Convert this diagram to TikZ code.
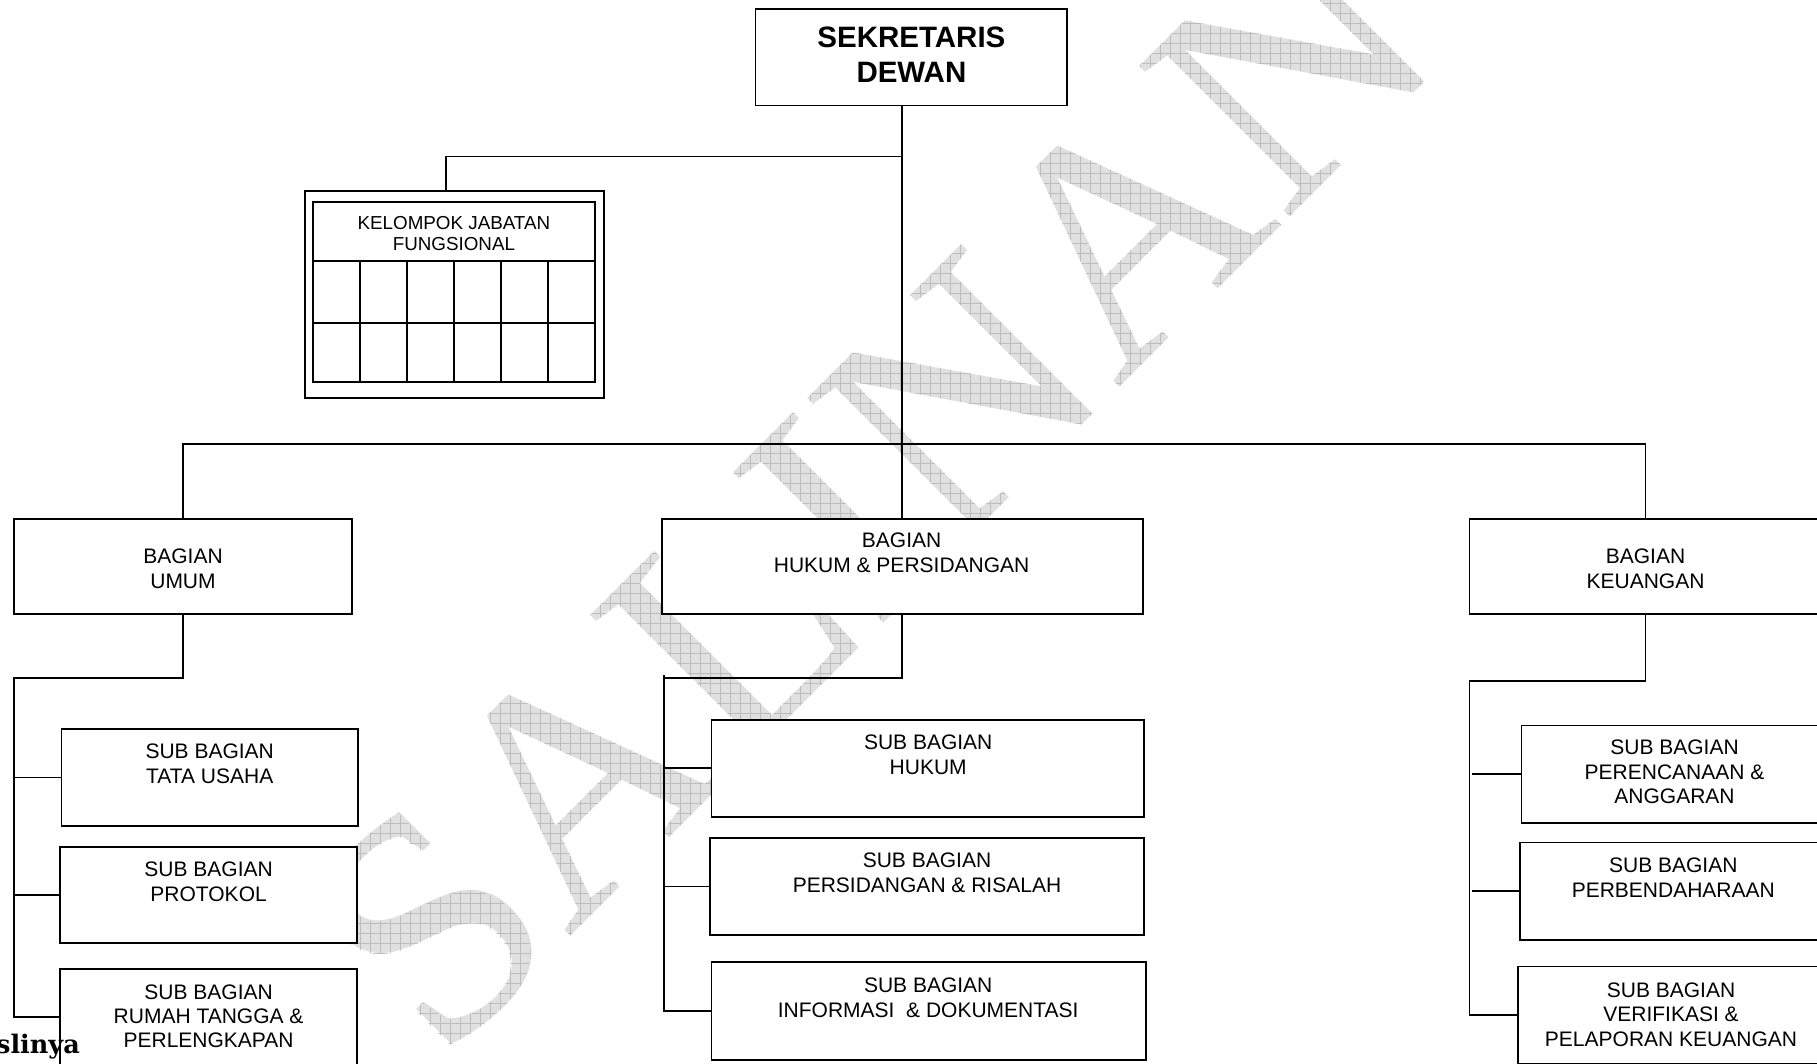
\documentclass[tikz,border=0pt]{standalone}
\usepackage{fontspec}
\setmainfont{Liberation Sans}
\newfontfamily\wmfont{Liberation Serif}
\newfontfamily\stampfont{DejaVu Serif}
\usetikzlibrary{calc,fadings,patterns.meta}

\begin{document}
% mask for the grid inside the diagonal watermark (white = visible), centred on the page centre
\pgfdeclarefading{wmfade}{%
  \pgfpicture
    \pgfpathrectangle{\pgfpoint{-908.5pt}{-531.5pt}}{\pgfpoint{1817pt}{1063pt}}%
    \pgfusepath{use as bounding box}%
    \pgfsetfillcolor{black}%
    \pgfpathrectangle{\pgfpoint{-908.5pt}{-531.5pt}}{\pgfpoint{1817pt}{1063pt}}%
    \pgfusepath{fill}%
    \pgftext[left,base,at={\pgfpoint{-467.5pt}{-534.5pt}},rotate=45]{\color{white}\wmfont\fontsize{325}{325}\selectfont SALINAN}%
  \endpgfpicture}
\begin{tikzpicture}[x=1pt,y=-1pt,
  box/.style={draw, line width=1.8pt, fill=white, inner sep=0pt, outer sep=0pt, anchor=north west},
  lbl/.style={align=center, inner sep=0pt, font=\fontsize{21}{25}\selectfont},
  link/.style={line width=1.8pt},
  kjline/.style={line width=2.1pt},
  wmark/.style={path fading=wmfade, fit fading=false, fading transform={shift={(908.5,531.5)}}}
]
\useasboundingbox (0,0) rectangle (1817,1063);

% watermark: light grey letters with a fine grid
\node[text=black!12, font=\wmfont\fontsize{325}{325}\selectfont, rotate=45,
      anchor=base west, inner sep=0pt] (wm) at (441,1066) {SALINAN};
\path[wmark, pattern={Hatch[distance=10pt, angle=0, line width=0.6pt]}, pattern color=black!26] (0,0) rectangle (1817,1063);

% top level
\node[box, minimum width=311.8, minimum height=96.2] (sek) at (755.5,9.3) {};
\node[lbl, font=\bfseries\fontsize{29.5}{34.8}\selectfont] (sekt) at (911.4,54.5) {SEKRETARIS\\DEWAN};

% functional group table
\node[box, kjline, minimum width=298.9, minimum height=207.3] (kjf) at (304.8,190.7) {};
\node[box, kjline, minimum width=282.3, minimum height=180] (kjfin) at (312.7,201.7) {};
\draw[kjline] (312.7,260.7) -- (595,260.7);
\draw[kjline] (312.7,322.7) -- (595,322.7);
\foreach \i in {1,...,5}
  \draw[kjline] (312.7+\i*47.05,260.7) -- (312.7+\i*47.05,381.7);
\node[lbl, font=\fontsize{18.8}{21.7}\selectfont] (kjft) at (453.9,233.5) {KELOMPOK JABATAN\\FUNGSIONAL};

% divisions
\node[box, minimum width=338.4, minimum height=95.1] (umum) at (13.9,519.1) {};
\node[box, minimum width=480.9, minimum height=95.1] (hukum) at (661.7,519.1) {};
\node[box, minimum width=352, minimum height=95.1] (keu) at (1469.4,519.1) {};
\node[lbl] (umumt) at (183,569) {BAGIAN\\UMUM};
\node[lbl] (hukumt) at (901.6,552.8) {BAGIAN\\HUKUM \& PERSIDANGAN};
\node[lbl] (keut) at (1645.5,569) {BAGIAN\\KEUANGAN};

% sub-divisions
\node[box, minimum width=296.6, minimum height=97.3] (tata) at (61.4,728.9) {};
\node[box, minimum width=296.6, minimum height=96.2] (protokol) at (60.3,847.1) {};
\node[box, minimum width=296.6, minimum height=97] (rumah) at (60.3,968.8) {};
\node[box, minimum width=432.2, minimum height=97.4] (shukum) at (711.5,719.6) {};
\node[box, minimum width=433.4, minimum height=97.4] (persid) at (710.3,837.8) {};
\node[box, minimum width=434.5, minimum height=98.5] (info) at (711.5,961.8) {};
\node[box, minimum width=310, minimum height=97.3] (perenc) at (1521.5,725.4) {};
\node[box, minimum width=310, minimum height=97.4] (perbend) at (1520.3,842.4) {};
\node[box, minimum width=310, minimum height=97] (verif) at (1518,966.4) {};

\node[lbl] (tatat) at (209.7,763.6) {SUB BAGIAN\\TATA USAHA};
\node[lbl] (protokolt) at (208.6,881.9) {SUB BAGIAN\\PROTOKOL};
\node[lbl, font=\fontsize{21}{24.3}\selectfont] (rumaht) at (208.6,1016.3) {SUB BAGIAN\\RUMAH TANGGA \&\\PERLENGKAPAN};
\node[lbl] (shukumt) at (928.2,754.4) {SUB BAGIAN\\HUKUM};
\node[lbl] (persidt) at (927,872.6) {SUB BAGIAN\\PERSIDANGAN \& RISALAH};
\node[lbl] (infot) at (928.2,997.7) {SUB BAGIAN\\INFORMASI\ \ \& DOKUMENTASI};
\node[lbl, font=\fontsize{21}{24.3}\selectfont] (perenct) at (1674.5,771.8) {SUB BAGIAN\\PERENCANAAN \&\\ANGGARAN};
\node[lbl] (perbendt) at (1673.3,877.2) {SUB BAGIAN\\PERBENDAHARAAN};
\node[lbl, font=\fontsize{21}{24.3}\selectfont] (verift) at (1671,1014.5) {SUB BAGIAN\\VERIFIKASI \&\\PELAPORAN KEUANGAN};

% connectors: head to divisions and functional group
\draw[link] (hukum.north |- sek.south) -- (hukum.north);
\coordinate (kj) at (446,156.4);
\draw[link] (kj -| hukum.north) -- (kj) -- (kj |- kjf.north);
\coordinate (bus) at (0,443.8);
\draw[link] (umum.north) -- (umum.north |- bus) -- (keu.north |- bus) -- (keu.north);

% connectors: general affairs
\coordinate (ut) at (13.9,678);
\draw[link] (umum.south) -- (umum.south |- ut) -- (ut) -- (ut |- rumah.west) -- (rumah.west);
\draw[link] (ut |- tata.west) -- (tata.west);
\draw[link] (ut |- protokol.west) -- (protokol.west);

% connectors: law and sessions
\coordinate (ht) at (664,678);
\draw[link] (hukum.south) -- (hukum.south |- ht) -- (ht);
\draw[link] ($(ht)+(0,-3)$) -- (ht |- info.west) -- (info.west);
\draw[link] (ht |- shukum.west) -- (shukum.west);
\draw[link] (ht |- persid.west) -- (persid.west);

% connectors: finance
\coordinate (kt) at (1469.4,681);
\draw[link] (keu.south) -- (keu.south |- kt) -- (kt) -- (kt |- verif.west) -- (verif.west);
\draw[link] ($(kt |- perenc.west)+(3,0)$) -- (perenc.west);
\draw[link] ($(kt |- perbend.west)+(3,0)$) -- (perbend.west);

% certification stamp fragment
\node[font=\stampfont\bfseries\fontsize{25.5}{25.5}\selectfont, anchor=base east, inner sep=0pt] (stamp) at (80,1053) {slinya};
\end{tikzpicture}
\end{document}
